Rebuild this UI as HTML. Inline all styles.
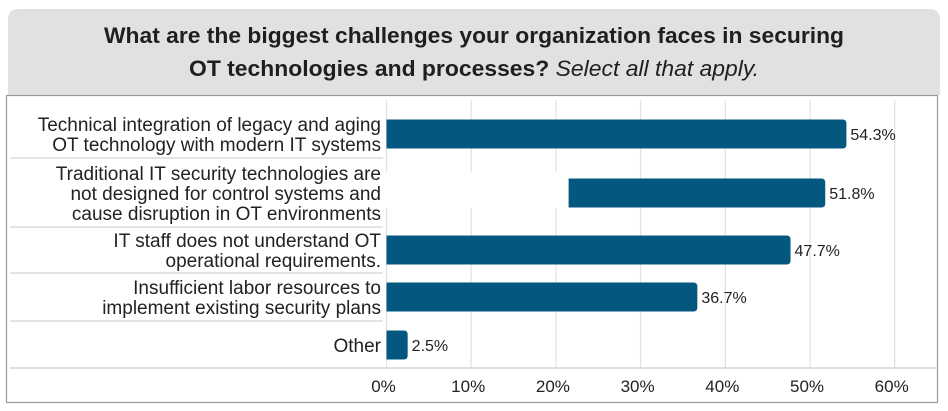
<!DOCTYPE html>
<html><head><meta charset="utf-8">
<style>
html,body{margin:0;padding:0;background:#fff;width:948px;height:411px;overflow:hidden}
svg{display:block}
</style></head>
<body>
<svg id="chart" width="948" height="411" xmlns="http://www.w3.org/2000/svg" font-family="'Liberation Sans Narrow','Liberation Sans',sans-serif">
<path d="M8,95 V20 Q8,9 19,9 H929 Q940,9 940,20 V95 Z" fill="#e1e1e1"/>
<text x="474" y="43" text-anchor="middle" font-family="'Liberation Sans',sans-serif" font-weight="bold" font-size="22" fill="#1f1f1f" textLength="740" lengthAdjust="spacingAndGlyphs">What are the biggest challenges your organization faces in securing</text>
<text x="474" y="76" text-anchor="middle" font-family="'Liberation Sans',sans-serif" font-size="22" fill="#1f1f1f" textLength="570" lengthAdjust="spacingAndGlyphs"><tspan font-weight="bold">OT technologies and processes? </tspan><tspan font-style="italic">Select all that apply.</tspan></text>
<rect x="6.5" y="95.5" width="931" height="307" fill="#fff" stroke="#9a9a9a" stroke-width="1.2"/>
<g id="grid"></g>
<g id="rows"></g>
<g id="bars"></g>
<g id="ticks"></g>
</svg>
<script>
const categories = [
  ["Technical integration of legacy and aging","OT technology with modern IT systems"],
  ["Traditional IT security technologies are","not designed for control systems and","cause disruption in OT environments"],
  ["IT staff does not understand OT","operational requirements."],
  ["Insufficient labor resources to","implement existing security plans"],
  ["Other"]
];
const values = [54.3, 51.8, 47.7, 36.7, 2.5];
const valueLabels = ["54.3%","51.8%","47.7%","36.7%","2.5%"];
const tickValues = [0,10,20,30,40,50,60];
const tickLabels = ["0%","10%","20%","30%","40%","50%","60%"];

const NS="http://www.w3.org/2000/svg";
const x0=386.5, pxPer=8.47;
function xs(v){return x0+v*pxPer;}
const rowMid=[134,193,250,297,345];
const sepY=[158,227,273,321];
function mk(tag,attrs,parent){const e=document.createElementNS(NS,tag);for(const k in attrs)e.setAttribute(k,attrs[k]);parent.appendChild(e);return e;}
const grid=document.getElementById('grid'), rows=document.getElementById('rows'), bars=document.getElementById('bars'), ticks=document.getElementById('ticks');

tickValues.forEach((t,i)=>{
  const l=mk('line',{x1:xs(t),x2:xs(t),y1:100,y2:368,stroke:'#e3e3e3','stroke-width':1.3},grid);
  
  
  const tx=mk('text',{x:xs(t)-3,y:392,'text-anchor':'middle','font-size':17,fill:'#222'},ticks);
  tx.textContent=tickLabels[i];
  
  
});
const ax=mk('line',{x1:10,x2:937,y1:368,y2:368,stroke:'#d6d6d6','stroke-width':1.5},grid);



sepY.forEach(y=>{
  const sep=mk('line',{x1:10,x2:383,y1:y,y2:y,stroke:'#dcdcdc','stroke-width':1.5},rows);
  
  
});

categories.forEach((lines,i)=>{
  const mid=rowMid[i], lh=20;
  const startY=mid-(lines.length-1)*lh/2+7;
  lines.forEach((ln,j)=>{
    const t=mk('text',{x:381,y:startY+j*lh,'text-anchor':'end','font-size':19,fill:'#222'},rows);
    t.textContent=ln;
    
    
  });
  const bh=29, by=mid-bh/2;
  const w=xs(values[i])-x0;
  const r=4;
  const b=mk('path',{d:`M${x0},${by} H${x0+w-r} Q${x0+w},${by} ${x0+w},${by+r} V${by+bh-r} Q${x0+w},${by+bh} ${x0+w-r},${by+bh} H${x0} Z`,fill:'#04587f'},bars);
  
  
  const v=mk('text',{x:x0+w+4,y:mid+6,'font-size':16,fill:'#222'},bars);
  v.textContent=valueLabels[i];
  
  
});
const m=mk('rect',{x:385,y:172,width:xs(21.5)-385,height:36,fill:'#fff'},bars);


</script>
</body></html>
